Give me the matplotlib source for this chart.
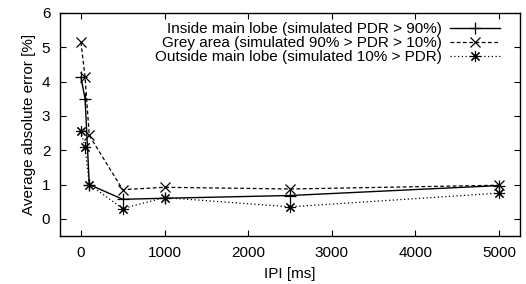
import matplotlib
matplotlib.use("Agg")
import matplotlib.pyplot as plt

plt.rcParams['font.family'] = ['Liberation Sans', 'DejaVu Sans']
plt.rcParams['font.size'] = 11

# IPI values (ms)
ipi = [0, 50, 100, 500, 1000, 2500, 5000]

# average absolute error [%]
inside_err = [4.13, 3.5, 1.0, 0.57, 0.6, 0.68, 0.97]
grey_err = [5.15, 4.13, 2.43, 0.85, 0.92, 0.87, 0.98]
outside_err = [2.56, 2.08, 1.0, 0.3, 0.62, 0.35, 0.75]

labels = ['Inside main lobe (simulated PDR > 90%)',
          'Grey area (simulated 90% > PDR > 10%)',
          'Outside main lobe (simulated 10% > PDR)']

fig = plt.figure(figsize=(5.26, 2.84), dpi=100)
ax = fig.add_axes([60/526, 1 - 236/284, 460/526, 223/284])

ax.plot(ipi, inside_err, color='black', lw=1.0, ls='-', marker='+', ms=9, mew=0.9, label=labels[0])
ax.plot(ipi, grey_err, color='black', lw=0.9, ls=(0, (3, 2)), marker='x', ms=7, mew=0.9, label=labels[1])
ax.plot(ipi, outside_err, color='black', lw=0.9, ls=(0, (1, 2)), marker=(8, 2, 0), ms=8, mew=0.8, label=labels[2])

ax.set_xlim(-250, 5250)
ax.set_ylim(-0.5, 6)
ax.set_xticks([0, 1000, 2000, 3000, 4000, 5000])
ax.set_yticks([0, 1, 2, 3, 4, 5, 6])
ax.tick_params(direction='in', top=True, right=True, length=4, width=0.8, pad=7)
for s in ax.spines.values():
    s.set_linewidth(1.0)

ax.set_xlabel('IPI [ms]', labelpad=5)
ax.set_ylabel('Average absolute error [%]', labelpad=4)

leg = ax.legend(loc='upper right', bbox_to_anchor=(0.96, 0.965), frameon=False, markerfirst=False,
                handlelength=3.3, borderaxespad=0, borderpad=0.1, labelspacing=0.0, handletextpad=0.5)
for t in leg.get_texts():
    t.set_ha('right')
leg._legend_box.align = 'right'

fig.savefig('out.png', dpi=100)
